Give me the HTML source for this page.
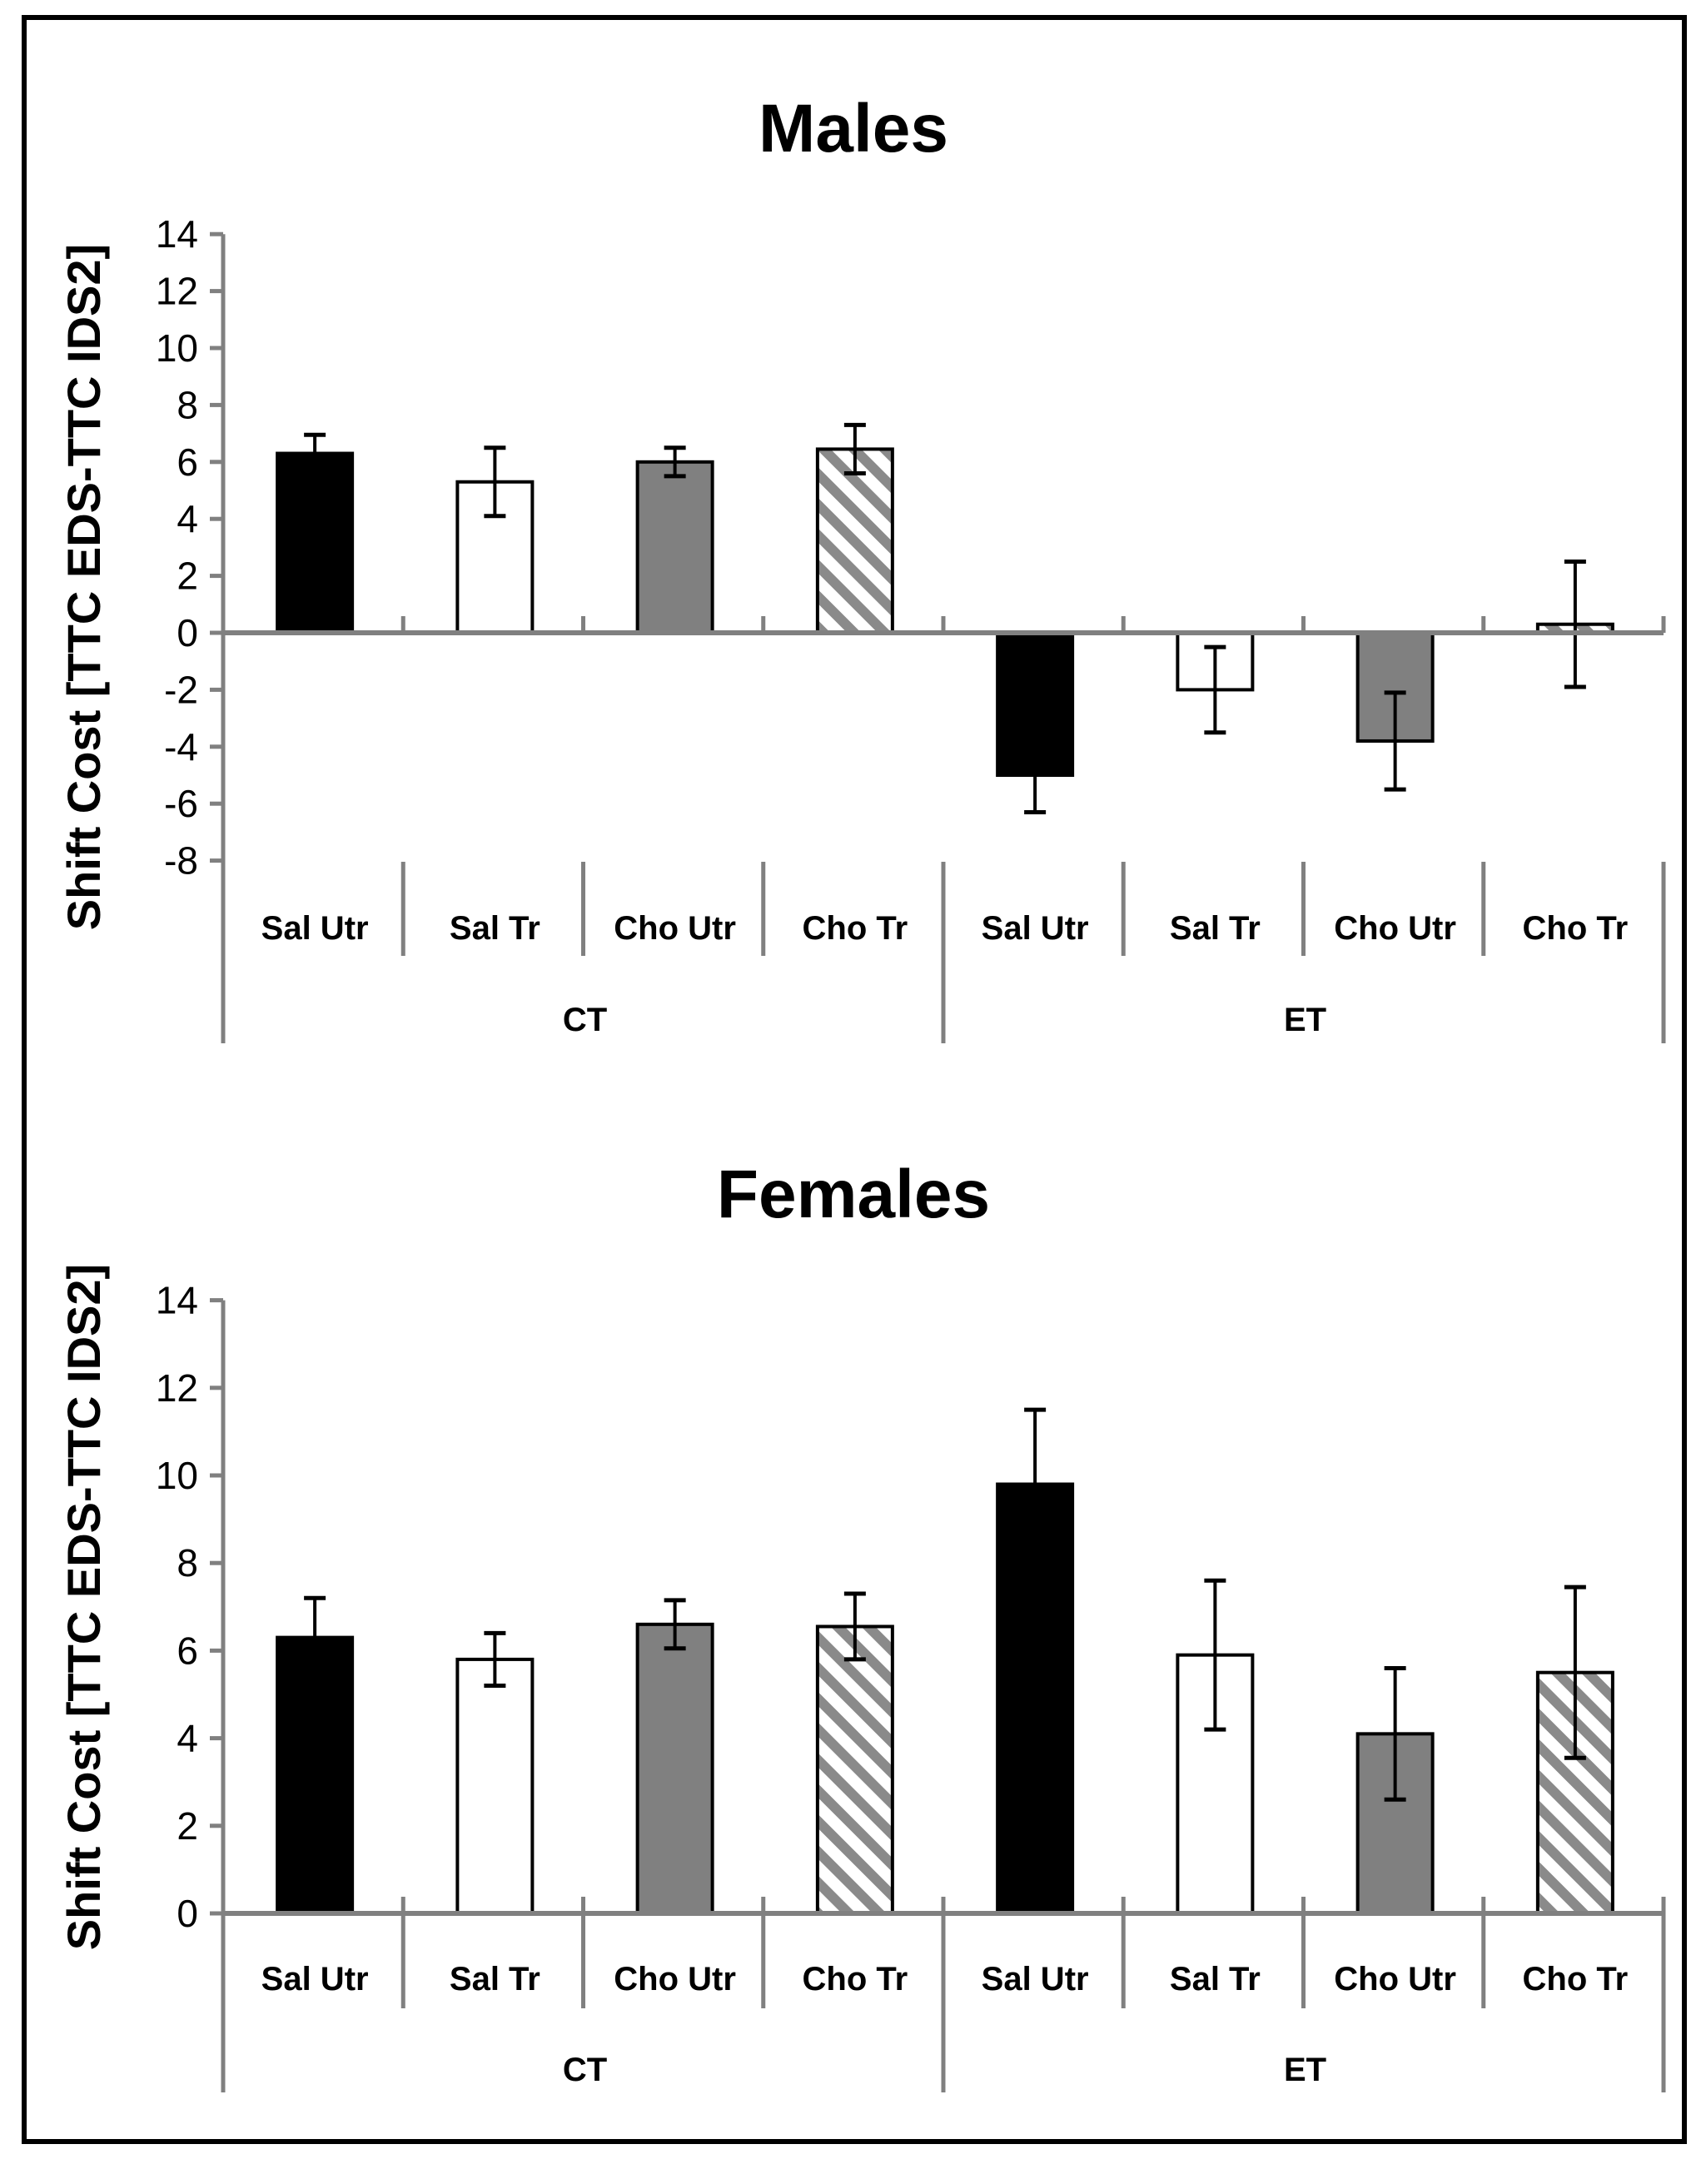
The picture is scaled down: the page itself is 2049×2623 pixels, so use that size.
<!DOCTYPE html>
<html><head><meta charset="utf-8"><style>
body{margin:0;background:#fff}
svg{display:block}
text{font-family:"Liberation Sans",sans-serif}
</style></head><body>
<svg id="fig" width="2049" height="2623" viewBox="0 0 2049 2623" xmlns="http://www.w3.org/2000/svg">
<defs>
<pattern id="hatch" patternUnits="userSpaceOnUse" width="26" height="26" patternTransform="rotate(-45)">
<rect width="26" height="26" fill="#fff"/><rect x="0" y="0" width="12" height="26" fill="#8a8a8a"/>
</pattern>
</defs>
<rect x="29" y="21" width="1994" height="2551" fill="none" stroke="#000" stroke-width="6"/>
</svg>
<script>
const categories=["Sal Utr","Sal Tr","Cho Utr","Cho Tr","Sal Utr","Sal Tr","Cho Utr","Cho Tr"];
const groups=["CT","ET"];
const maleValues=[6.3,5.3,6.0,6.45,-5.0,-2.0,-3.8,0.3];
const maleErrors=[0.65,1.2,0.5,0.85,1.3,1.5,1.7,2.2];
const femaleValues=[6.3,5.8,6.6,6.55,9.8,5.9,4.1,5.5];
const femaleErrors=[0.9,0.6,0.55,0.75,1.7,1.7,1.5,1.95];
const maleTicks=[14,12,10,8,6,4,2,0,-2,-4,-6,-8];
const femaleTicks=[14,12,10,8,6,4,2,0];
const fills=["#000","#fff","#808080","url(#hatch)"];

const svg=document.getElementById('fig');
const NS="http://www.w3.org/2000/svg";
function mk(tag,attrs,name,parent){
  const e=document.createElementNS(NS,tag);
  for(const k in attrs)e.setAttribute(k,attrs[k]);
  
  
  (parent||svg).appendChild(e);return e;
}
function chart(cfg){
  const g=mk('g',{},cfg.name);
  const x0=268,cw=216.25;
  const y=v=>cfg.zeroY-(v)*cfg.unit;
  const t=mk('text',{x:1025,y:cfg.titleY,'text-anchor':'middle','font-size':82,'font-weight':'bold'},'chart-title',g);t.textContent=cfg.title;
  const yt=mk('text',{transform:`translate(120,${cfg.ytY}) rotate(-90)`,'text-anchor':'middle','font-size':56,'font-weight':'bold'},'y-axis-title',g);yt.textContent="Shift Cost [TTC EDS-TTC IDS2]";
  const ticks=cfg.ticks;
  ticks.forEach(v=>{
    mk('line',{x1:x0-16,x2:x0,y1:y(v),y2:y(v),stroke:'#808080','stroke-width':5},'y-tick',g);
    const l=mk('text',{x:x0-30,y:y(v)+16,'text-anchor':'end','font-size':46},'y-tick-label',g);l.textContent=v;
  });
  cfg.values.forEach((v,i)=>{
    const cx=x0+cw*(i+0.5)+2,bw=90;
    const top=Math.min(y(v),y(0)),h=Math.abs(y(v)-y(0));
    mk('rect',{x:cx-bw/2,y:top,width:bw,height:h,fill:fills[i%4],stroke:'#000','stroke-width':4},'bar-'+groups[Math.floor(i/4)].toLowerCase()+'-'+(i%4),g);
    const e=cfg.errors[i];
    mk('line',{x1:cx,x2:cx,y1:y(v+e),y2:y(v-e),stroke:'#000','stroke-width':4},'error-bar',g);
    mk('line',{x1:cx-13,x2:cx+13,y1:y(v+e),y2:y(v+e),stroke:'#000','stroke-width':5},'error-cap',g);
    mk('line',{x1:cx-13,x2:cx+13,y1:y(v-e),y2:y(v-e),stroke:'#000','stroke-width':5},'error-cap',g);
  });
  mk('line',{x1:x0,x2:x0,y1:y(ticks[0]),y2:cfg.axisBottom,stroke:'#808080','stroke-width':5},'y-axis',g);
  mk('line',{x1:x0,x2:x0+8*cw,y1:y(0),y2:y(0),stroke:'#808080','stroke-width':6},'x-axis',g);
  for(let i=1;i<=8;i++){
    const xx=x0+cw*i;
    mk('line',{x1:xx,x2:xx,y1:y(0)-20,y2:y(0),stroke:'#808080','stroke-width':5},'x-tick',g);
    const lb=(i===4||i===8)?cfg.axisBottom:cfg.divBottom;
    mk('line',{x1:xx,x2:xx,y1:cfg.divTop,y2:lb,stroke:'#808080','stroke-width':5},'category-divider',g);
  }
  categories.forEach((c,i)=>{
    const l=mk('text',{x:x0+cw*(i+0.5)+2,y:cfg.catY,'text-anchor':'middle','font-size':40,'font-weight':'bold'},'category-label',g);l.textContent=c;
  });
  groups.forEach((gr,i)=>{
    const l=mk('text',{x:x0+cw*(4*i+2)+2,y:cfg.grpY,'text-anchor':'middle','font-size':40,'font-weight':'bold'},'group-label',g);l.textContent=gr;
  });
}
chart({name:'males-chart',title:'Males',titleY:182,ytY:705,values:maleValues,errors:maleErrors,ticks:maleTicks,zeroY:760,unit:34.2,axisBottom:1253,divTop:1035,divBottom:1148,catY:1128,grpY:1238});
chart({name:'females-chart',title:'Females',titleY:1462,ytY:1930,values:femaleValues,errors:femaleErrors,ticks:femaleTicks,zeroY:2298,unit:52.6,axisBottom:2513,divTop:2298,divBottom:2412,catY:2390,grpY:2499});
</script>
</body></html>
